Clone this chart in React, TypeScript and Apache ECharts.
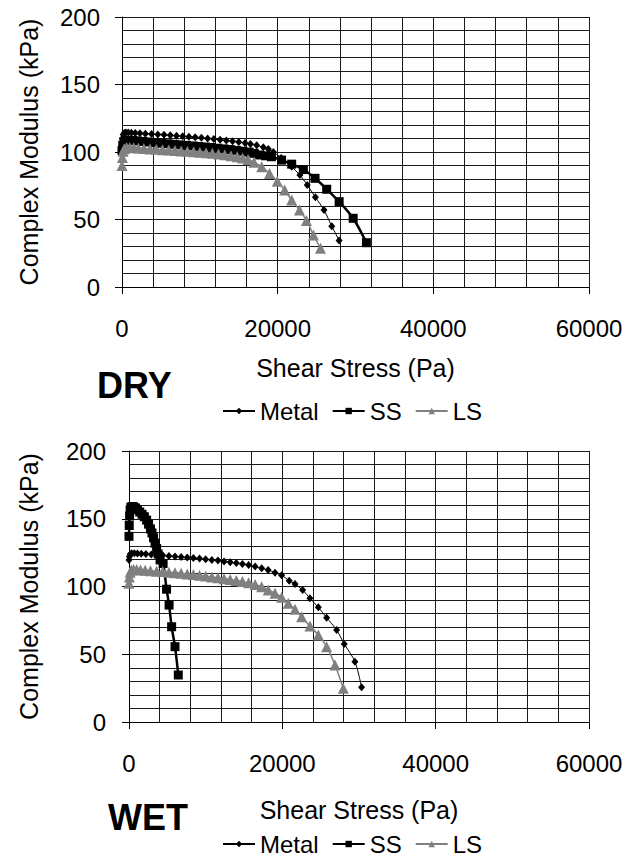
import React, { useEffect, useRef } from "react";
import * as echarts from "echarts";

// ---------- DATA ----------
const xTickLabels = ["0", "20000", "40000", "60000"];
const yTickLabels = ["0", "50", "100", "150", "200"];
const seriesNames = ["Metal", "SS", "LS"];

// DRY
const dryMetalX = [0, 50, 150, 300, 500, 800, 1200, 1700, 2300, 3000, 3800, 4600, 5400, 6200, 7000, 7800, 8600, 9400, 10200, 11000, 11800, 12600, 13400, 14200, 15000, 15800, 16500, 17300, 18150, 18800, 19450, 20450, 21800, 22850, 23800, 24850, 25950, 26950, 27900];
const dryMetalY = [105, 110, 113, 114, 114.5, 114.5, 114.3, 114, 113.8, 113.6, 113.3, 113, 112.7, 112.4, 112, 111.7, 111.3, 110.9, 110.5, 110, 109.6, 109.1, 108.6, 108, 107.4, 106.7, 106, 105, 103.5, 102.2, 100, 95.5, 89, 83, 75.5, 66.5, 57, 45, 34.5];
const drySSX = [0, 100, 250, 500, 900, 1400, 2000, 2700, 3500, 4300, 5100, 5900, 6700, 7500, 8300, 9100, 9900, 10700, 11500, 12300, 13100, 13900, 14700, 15500, 16300, 17000, 17700, 18450, 19200, 20500, 21800, 23300, 24800, 26300, 27900, 29700, 31400];
const drySSY = [101, 105, 107.5, 108.5, 108.7, 108.5, 108.2, 107.8, 107.4, 107, 106.5, 106.1, 105.7, 105.3, 104.9, 104.5, 104.1, 103.7, 103.3, 102.8, 102.3, 101.8, 101.2, 100.6, 100, 99, 97.8, 97.2, 96.5, 94, 91, 87, 80.5, 72.4, 63.2, 50.9, 32.8];
const dryLSX = [0, 50, 150, 300, 600, 1000, 1500, 2100, 2800, 3600, 4400, 5200, 6000, 6800, 7600, 8400, 9200, 10000, 10800, 11600, 12400, 13200, 14000, 14800, 15500, 16200, 16950, 17950, 18950, 19950, 20900, 21800, 22800, 23700, 24600, 25500];
const dryLSY = [90, 96, 100.5, 102.5, 103.3, 103.3, 103.1, 102.9, 102.6, 102.3, 102, 101.7, 101.4, 101.1, 100.8, 100.5, 100.2, 99.8, 99.4, 99, 98.5, 97.9, 97.2, 96.4, 95.6, 94.5, 92.5, 89, 84, 78.3, 71.9, 64.4, 57, 49.3, 38.5, 28.7];

// WET
const wetMetalX = [0, 50, 150, 350, 700, 1100, 1600, 2200, 2900, 3600, 4400, 5200, 6000, 6800, 7600, 8400, 9200, 10000, 10800, 11600, 12400, 13200, 14000, 14800, 15600, 16450, 17300, 18150, 19050, 19900, 20900, 21650, 22650, 23600, 24700, 25780, 27080, 28080, 29470, 30340];
const wetMetalY = [119.6, 122, 123.8, 124.5, 124.5, 124.3, 124.1, 123.9, 123.6, 123.3, 123, 122.6, 122.2, 121.8, 121.4, 121, 120.6, 120.1, 119.6, 119.1, 118.5, 117.9, 117.3, 116.6, 115.8, 114.7, 113.4, 112.2, 110.2, 108.3, 104.3, 101.8, 97.4, 91.3, 84.6, 77, 67.9, 57.6, 44.5, 25.6];
const wetSSX = [0, 30, 80, 150, 250, 400, 600, 850, 1100, 1400, 1700, 2000, 2300, 2550, 2800, 3000, 3200, 3400, 3600, 3800, 4050, 4450, 4900, 5230, 5560, 6000, 6430];
const wetSSY = [137, 145, 152, 156.5, 158.5, 159, 158.8, 158, 156.8, 155, 153.3, 151.5, 149, 146, 142.5, 139.5, 136, 132, 128, 124, 119.6, 117, 98, 86.3, 70.3, 55.6, 34.7];
const wetLSX = [0, 50, 150, 300, 600, 1000, 1500, 2100, 2800, 3600, 4400, 5200, 6000, 6800, 7600, 8400, 9200, 10000, 10800, 11600, 12400, 13200, 14000, 14800, 15600, 16450, 17300, 18160, 19040, 19910, 20770, 21650, 22520, 23600, 24690, 25780, 26870, 27950];
const wetLSY = [102.4, 107, 110.5, 112.2, 112.6, 112.5, 112.2, 112, 111.7, 111.3, 111, 110.6, 110.2, 109.8, 109.3, 108.8, 108.3, 107.7, 107.1, 106.5, 105.8, 105.1, 104.4, 103.6, 102.7, 101.5, 99.9, 97.4, 95, 92, 87.6, 83.2, 77.7, 70.8, 64.2, 55.6, 42, 24.9];

const FONT = "'Liberation Sans', Arial, sans-serif";

function pairs(xs: number[], ys: number[]) {
  return xs.map((x, i) => [x, ys[i]]);
}

export default function App() {
  const ref = useRef<HTMLDivElement>(null);

  useEffect(() => {
    if (!ref.current) return;
    const chart = echarts.init(ref.current, null, { renderer: "svg" });

    const gridLine = { lineStyle: { color: "#1a1a1a", width: 1 } };

    const makeX = (gridIndex: number, nameGap: number) => ({
      gridIndex,
      type: "value",
      min: 0,
      max: 60000,
      interval: 20000,
      name: "Shear Stress (Pa)",
      nameLocation: "middle",
      nameGap,
      nameTextStyle: { fontSize: 25, color: "#000", fontFamily: FONT, lineHeight: 25 },
      axisLine: { show: true, onZero: false, lineStyle: { color: "#000", width: 1 } },
      axisTick: { show: true, length: 7, inside: false, lineStyle: { color: "#000" } },
      axisLabel: {
        fontSize: 24,
        color: "#000",
        fontFamily: FONT,
        margin: 29,
        lineHeight: 24,
        formatter: (v: number) => xTickLabels[Math.round(v / 20000)] ?? String(v),
      },
      splitLine: { show: true, ...gridLine },
      minorTick: { show: false, splitNumber: 5 },
      minorSplitLine: { show: true, ...gridLine },
    });

    const makeY = (gridIndex: number, nameGap: number, margin: number) => ({
      gridIndex,
      type: "value",
      min: 0,
      max: 200,
      interval: 50,
      name: "Complex Modulus (kPa)",
      nameLocation: "middle",
      nameGap,
      nameTextStyle: { fontSize: 25, color: "#000", fontFamily: FONT, lineHeight: 25 },
      axisLine: { show: true, onZero: false, lineStyle: { color: "#000", width: 1 } },
      axisTick: { show: true, length: 7, lineStyle: { color: "#000" } },
      axisLabel: {
        fontSize: 24,
        color: "#000",
        fontFamily: FONT,
        margin,
        formatter: (v: number) => yTickLabels[Math.round(v / 50)] ?? String(v),
      },
      splitLine: { show: true, ...gridLine },
      minorTick: { show: false, splitNumber: 5 },
      minorSplitLine: { show: true, ...gridLine },
    });

    const metalStyle = (xi: number, xs: number[], ys: number[]) => ({
      name: seriesNames[0],
      type: "line",
      xAxisIndex: xi,
      yAxisIndex: xi,
      data: pairs(xs, ys),
      symbol: "diamond",
      symbolSize: [7, 8],
      smooth: 0.3,
      itemStyle: { color: "#000" },
      lineStyle: { color: "#000", width: 1 },
    });
    const ssStyle = (xi: number, xs: number[], ys: number[]) => ({
      name: seriesNames[1],
      type: "line",
      xAxisIndex: xi,
      yAxisIndex: xi,
      data: pairs(xs, ys),
      symbol: "rect",
      symbolSize: 9,
      smooth: 0.3,
      itemStyle: { color: "#000" },
      lineStyle: { color: "#000", width: 2.5 },
    });
    const lsStyle = (xi: number, xs: number[], ys: number[]) => ({
      name: seriesNames[2],
      type: "line",
      xAxisIndex: xi,
      yAxisIndex: xi,
      data: pairs(xs, ys),
      symbol: "triangle",
      symbolSize: [11, 11],
      smooth: 0.3,
      itemStyle: { color: "#808080" },
      lineStyle: { color: "#808080", width: 1.5 },
    });

    const legendBase = {
      left: 222,
      itemWidth: 32,
      itemHeight: 8,
      itemGap: 13,
      padding: 0,
      textStyle: { fontSize: 24, color: "#000", fontFamily: FONT, lineHeight: 20 },
      data: seriesNames,
      selectedMode: false,
    };

    chart.setOption({
      animation: false,
      backgroundColor: "#fff",
      textStyle: { fontFamily: FONT },
      title: [
        {
          text: "DRY",
          left: 97,
          top: 367,
          padding: 0,
          textStyle: { fontSize: 36, fontWeight: "bold", color: "#000", fontFamily: FONT, lineHeight: 36 },
        },
        {
          text: "WET",
          left: 108,
          top: 799,
          padding: 0,
          textStyle: { fontSize: 36, fontWeight: "bold", color: "#000", fontFamily: FONT, lineHeight: 36 },
        },
      ],
      legend: [
        { ...legendBase, top: 399 },
        { ...legendBase, top: 832 },
      ],
      grid: [
        { left: 122, top: 17, width: 467, height: 270 },
        { left: 129, top: 451, width: 460, height: 271 },
      ],
      xAxis: [makeX(0, 68), makeX(1, 75)],
      yAxis: [makeY(0, 81, 22), makeY(1, 88, 23)],
      series: [
        metalStyle(0, dryMetalX, dryMetalY),
        ssStyle(0, drySSX, drySSY),
        lsStyle(0, dryLSX, dryLSY),
        metalStyle(1, wetMetalX, wetMetalY),
        ssStyle(1, wetSSX, wetSSY),
        lsStyle(1, wetLSX, wetLSY),
      ],
    });

    return () => chart.dispose();
  }, []);

  return (
    <div
      ref={ref}
      style={{ position: "fixed", left: 0, top: 0, width: 635, height: 856, background: "#fff" }}
    />
  );
}
